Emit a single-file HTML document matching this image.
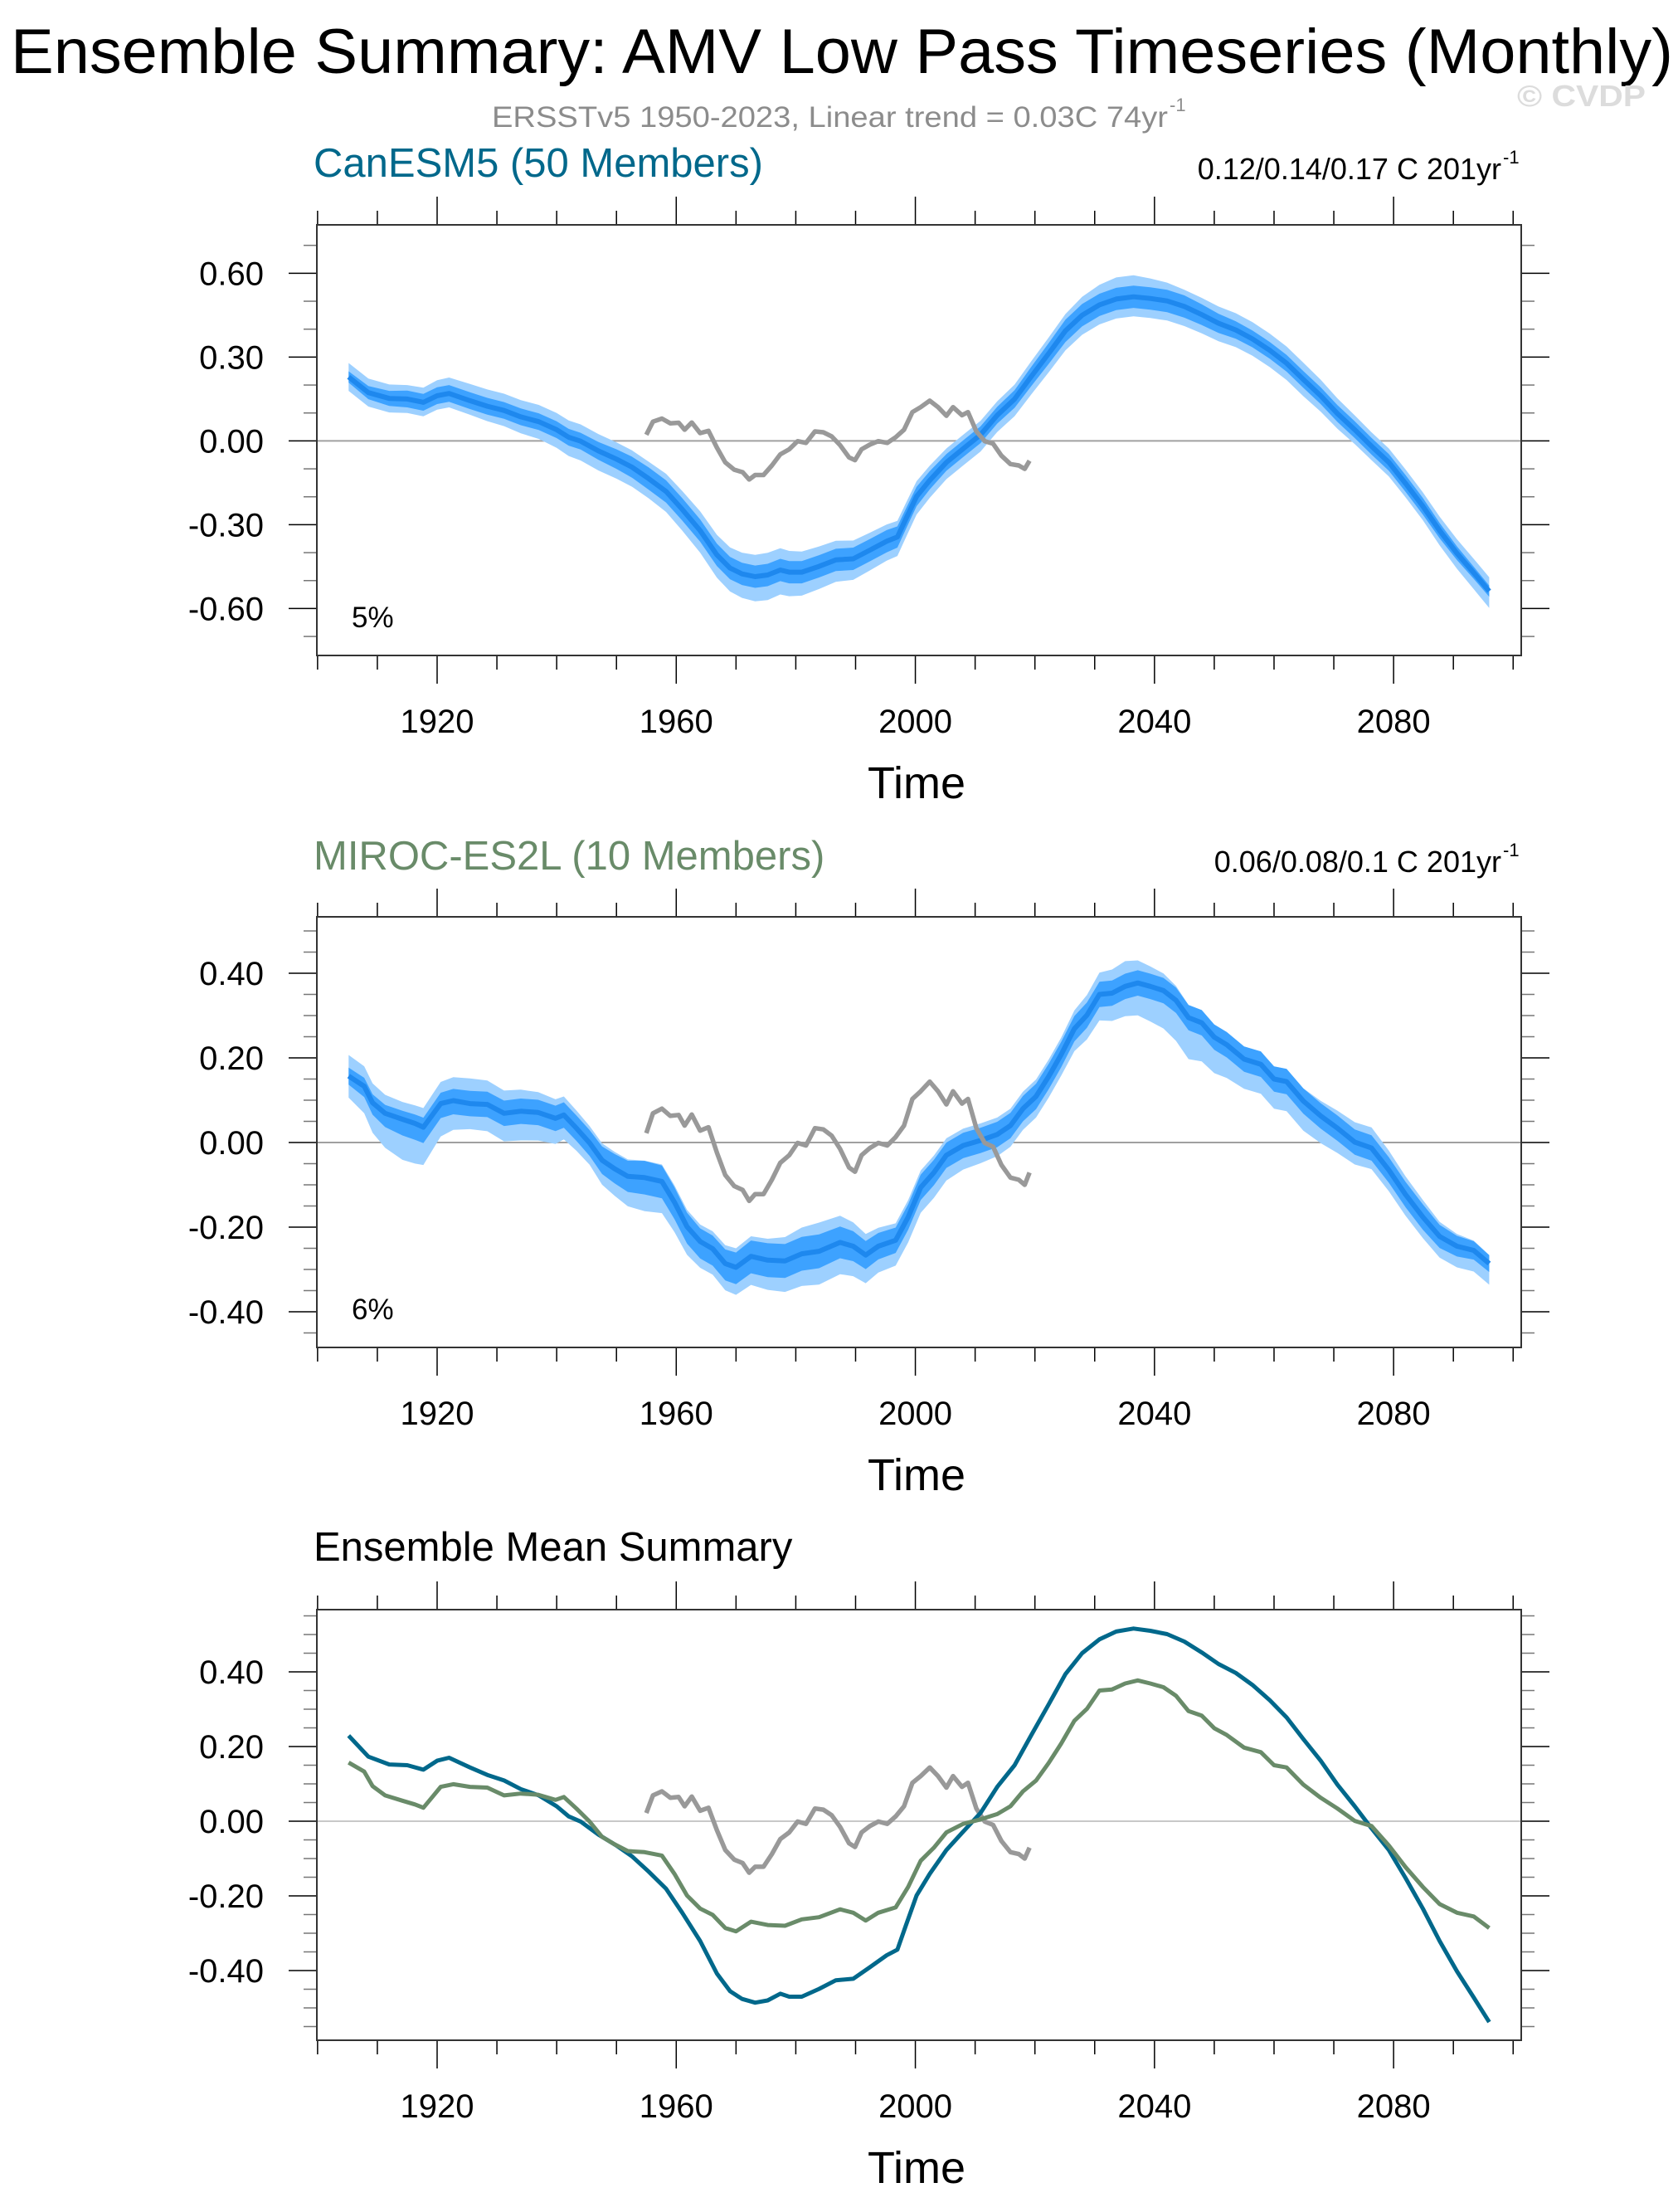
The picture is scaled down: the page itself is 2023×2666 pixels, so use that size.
<!DOCTYPE html>
<html><head><meta charset="utf-8">
<style>
html,body{margin:0;padding:0;background:#fff;}
svg{display:block;}
text{font-family:"Liberation Sans",Arial,sans-serif;}
</style></head>
<body>
<svg id="chart" xmlns="http://www.w3.org/2000/svg" width="2023" height="2666" viewBox="0 0 2023 2666">
<rect x="0" y="0" width="2023" height="2666" fill="#fff"/>
<text x="13" y="88" font-size="76" textLength="2004" lengthAdjust="spacingAndGlyphs" fill="#000">Ensemble Summary: AMV Low Pass Timeseries (Monthly)</text>
<text x="593" y="153" font-size="35" textLength="815" lengthAdjust="spacingAndGlyphs" fill="#8c8c8c">ERSSTv5 1950-2023, Linear trend = 0.03C 74yr</text>
<text x="1410" y="134" font-size="22" fill="#8c8c8c">-1</text>
<text x="1829" y="128" font-size="36" font-weight="bold" textLength="155" lengthAdjust="spacingAndGlyphs" fill="#dcdcdc">© CVDP</text>
<g id="plots"></g>
</svg>
<script>
// ---- data ----
const canYears = [1905.2,1908.5,1912,1915,1917.7,1920,1922,1925.5,1928.4,1931.2,1934,1937,1940,1942,1944,1947,1950,1952.6,1955.4,1958.3,1961,1964,1966.8,1969,1971,1973.2,1975.3,1977.4,1978.9,1981,1983.9,1986.7,1989.6,1992.4,1995.2,1997,1998.4,2000.2,2002.4,2005.2,2008,2010.9,2013.7,2016.6,2019.4,2022.3,2025.1,2027.9,2030.8,2033.6,2036.5,2039.3,2042.1,2045,2047.9,2050.7,2053.6,2056.4,2059.3,2062.1,2064.9,2067.8,2070.6,2073.5,2076.3,2079.2,2082,2084.9,2087.7,2090.6,2093.4,2096];
const canMean = [0.229,0.173,0.152,0.150,0.138,0.162,0.170,0.144,0.124,0.109,0.086,0.069,0.040,0.013,-0.001,-0.036,-0.065,-0.094,-0.135,-0.181,-0.245,-0.321,-0.408,-0.455,-0.476,-0.486,-0.480,-0.462,-0.470,-0.470,-0.449,-0.426,-0.422,-0.391,-0.359,-0.344,-0.280,-0.199,-0.141,-0.077,-0.028,0.022,0.092,0.150,0.231,0.313,0.394,0.450,0.487,0.508,0.516,0.510,0.501,0.481,0.452,0.421,0.397,0.365,0.324,0.278,0.220,0.162,0.098,0.040,-0.019,-0.077,-0.152,-0.234,-0.321,-0.402,-0.472,-0.538];
const mirYears = [1905.2,1907.8,1909.2,1911.3,1914.2,1916.3,1917.7,1919.1,1920.6,1922.7,1925.5,1928.4,1931.2,1934,1936.9,1939.8,1941.2,1943.3,1945.5,1947.6,1949.7,1951.9,1954.7,1957.6,1959.7,1961.8,1964,1966.1,1968.2,1970,1972.5,1975.3,1978.2,1981,1983.9,1987.4,1989.6,1991.7,1993.8,1996.7,1998.8,2000.9,2003.1,2005.2,2008,2010.9,2013.7,2015.9,2018,2020.2,2022.3,2024.4,2026.6,2028.7,2030.8,2032.9,2035.1,2037.2,2039.3,2041.5,2043.6,2045.7,2047.9,2050,2052.1,2055,2057.8,2060,2062.1,2064.9,2067.8,2070.6,2073.5,2076.3,2079.2,2082,2084.9,2087.7,2090.6,2093.4,2096];
const mirMean = [0.157,0.133,0.094,0.069,0.055,0.045,0.036,0.063,0.092,0.099,0.092,0.090,0.069,0.074,0.071,0.057,0.065,0.034,-0.001,-0.042,-0.062,-0.080,-0.083,-0.092,-0.141,-0.199,-0.234,-0.251,-0.286,-0.295,-0.269,-0.278,-0.280,-0.263,-0.257,-0.236,-0.245,-0.266,-0.245,-0.231,-0.176,-0.106,-0.071,-0.030,-0.007,0.005,0.019,0.040,0.080,0.109,0.156,0.208,0.269,0.301,0.350,0.353,0.369,0.377,0.369,0.359,0.336,0.295,0.283,0.249,0.231,0.197,0.185,0.150,0.144,0.098,0.063,0.034,0.001,-0.013,-0.065,-0.123,-0.176,-0.222,-0.245,-0.255,-0.286];
const obsYears = [1955,1956.1,1957.6,1959,1960.4,1961.4,1962.6,1964,1965.4,1966.8,1968.2,1969.7,1971.1,1972.2,1973.2,1974.6,1976,1977.4,1978.9,1980.3,1981.7,1983.2,1984.6,1986,1987.4,1988.9,1989.9,1991,1992.4,1993.8,1995.3,1996.7,1998.1,1999.5,2000.9,2002.4,2003.8,2005.2,2006.3,2007.8,2008.8,2010.2,2011.6,2013,2014.4,2015.9,2017.3,2018.3,2019.1];
const obsVals = [0.022,0.069,0.080,0.063,0.065,0.040,0.066,0.028,0.036,-0.024,-0.077,-0.103,-0.112,-0.138,-0.122,-0.122,-0.088,-0.048,-0.030,-0.001,-0.007,0.034,0.031,0.016,-0.015,-0.059,-0.069,-0.030,-0.013,-0.001,-0.007,0.013,0.040,0.103,0.121,0.144,0.121,0.090,0.121,0.092,0.103,0.034,-0.001,-0.010,-0.053,-0.083,-0.088,-0.100,-0.071];
const spreadYears = [1905,1915,1925,1935,1945,1955,1965,1975,1985,1995,2005,2015,2025,2035,2045,2055,2065,2075,2085,2095];
const canOuterHi = [0.05,0.05,0.06,0.06,0.06,0.06,0.07,0.08,0.07,0.06,0.05,0.05,0.06,0.08,0.06,0.06,0.06,0.05,0.05,0.05];
const canOuterLo = [0.05,0.05,0.05,0.06,0.07,0.07,0.08,0.09,0.08,0.07,0.06,0.06,0.07,0.07,0.07,0.06,0.06,0.05,0.05,0.06];
const canInnerHi = [0.02,0.03,0.03,0.03,0.03,0.04,0.04,0.04,0.04,0.04,0.03,0.03,0.04,0.04,0.04,0.03,0.03,0.03,0.03,0.02];
const canInnerLo = [0.02,0.03,0.03,0.03,0.03,0.04,0.04,0.04,0.04,0.04,0.03,0.03,0.04,0.04,0.04,0.03,0.03,0.03,0.03,0.02];
const mirOuterHi = [0.05,0.04,0.06,0.05,0.04,0.04,0.04,0.05,0.07,0.04,0.04,0.04,0.04,0.06,0.03,0.03,0.03,0.05,0.04,0.02];
const mirOuterLo = [0.05,0.10,0.06,0.07,0.05,0.08,0.06,0.07,0.08,0.06,0.06,0.05,0.05,0.07,0.10,0.07,0.07,0.05,0.05,0.05];
const mirInnerHi = [0.02,0.02,0.03,0.03,0.03,0.04,0.03,0.04,0.04,0.03,0.03,0.03,0.03,0.03,0.03,0.03,0.03,0.03,0.03,0.02];
const mirInnerLo = [0.02,0.04,0.03,0.03,0.03,0.04,0.04,0.04,0.04,0.03,0.03,0.03,0.03,0.03,0.03,0.03,0.03,0.03,0.03,0.02];
const xTickYears = [1920,1960,2000,2040,2080];
const p1Ticks = [0.6,0.3,0.0,-0.3,-0.6];
const p1TickLabels = ["0.60","0.30","0.00","-0.30","-0.60"];
const p2Ticks = [0.4,0.2,0.0,-0.2,-0.4];
const p2TickLabels = ["0.40","0.20","0.00","-0.20","-0.40"];
const p3Ticks = [0.4,0.2,0.0,-0.2,-0.4];
const p3TickLabels = ["0.40","0.20","0.00","-0.20","-0.40"];

const NS = "http://www.w3.org/2000/svg";
const root = document.getElementById('plots');
const BOXL = 382, BOXR = 1834;
const xs = y => 527 + (y - 1920) * 7.207;
function mk(tag, attrs, parent){ const e=document.createElementNS(NS,tag); for(const k in attrs) e.setAttribute(k,attrs[k]); (parent||root).appendChild(e); return e; }
function spreadAt(arr, yr){
  if (yr<=spreadYears[0]) return arr[0];
  for(let i=0;i<spreadYears.length-1;i++){
    if(yr<=spreadYears[i+1]){ const t=(yr-spreadYears[i])/(spreadYears[i+1]-spreadYears[i]); return arr[i]*(1-t)+arr[i+1]*t; }
  }
  return arr[arr.length-1];
}
function linePath(xsArr, vals, ys){ return vals.map((v,i)=>(i?'L':'M')+xs(xsArr[i]).toFixed(1)+' '+ys(v).toFixed(1)).join(' '); }
function bandPath(xsArr, vals, hi, lo, ys){
  let d = vals.map((v,i)=>(i?'L':'M')+xs(xsArr[i]).toFixed(1)+' '+ys(v+spreadAt(hi,xsArr[i])).toFixed(1)).join(' ');
  for(let i=vals.length-1;i>=0;i--) d+=' L'+xs(xsArr[i]).toFixed(1)+' '+ys(vals[i]-spreadAt(lo,xsArr[i])).toFixed(1);
  return d+' Z';
}
function panel(cfg){
  const g = mk('g',{});
  
  
  const ys = v => cfg.zero - v*cfg.scale;
  const top=cfg.top, bot=cfg.bot;
  const t = mk('text',{x:cfg.titleX||378,y:cfg.titleY,'font-size':49,fill:cfg.titleColor},g); t.textContent=cfg.title;
  
  
  if(cfg.right){
    const r = mk('text',{x:1810,y:cfg.titleY+3,'font-size':36,'text-anchor':'end',fill:'#000'},g); r.textContent=cfg.right;
    
    
    const s = mk('text',{x:1812,y:cfg.titleY-16,'font-size':22,fill:'#000'},g); s.textContent='-1';
    
    
  }
  for(let yr=1900; yr<=2100; yr+=10){
    const x = xs(yr), major = xTickYears.includes(yr);
    const L = major?34:17;
    mk('line',{x1:x,x2:x,y1:top,y2:top-L,stroke:'#000','stroke-width':1.5},g);
    mk('line',{x1:x,x2:x,y1:bot,y2:bot+L,stroke:'#000','stroke-width':1.5},g);
  }
  xTickYears.forEach(yr=>{
    const lt = mk('text',{x:xs(yr),y:bot+93,'font-size':40,'text-anchor':'middle',fill:'#000'},g); lt.textContent=yr;
    
    
  });
  const xt = mk('text',{x:1105,y:bot+172,'font-size':54,'text-anchor':'middle',fill:'#000'},g); xt.textContent='Time';
  
  
  const vmax=(cfg.zero-top)/cfg.scale, vmin=-(bot-cfg.zero)/cfg.scale;
  for(let k=Math.ceil(vmin/cfg.minor-1e-6); k*cfg.minor<=vmax+1e-9; k++){
    const v=k*cfg.minor, y=ys(v);
    const major = cfg.ticks.some(tv=>Math.abs(tv-v)<1e-6);
    const L = major?34:16;
    mk('line',{x1:BOXL,x2:BOXL-L,y1:y,y2:y,stroke:major?'#000':'#777','stroke-width':1.5},g);
    mk('line',{x1:BOXR,x2:BOXR+L,y1:y,y2:y,stroke:major?'#000':'#777','stroke-width':1.5},g);
  }
  cfg.ticks.forEach((v,i)=>{
    const lt = mk('text',{x:318,y:ys(v)+14,'font-size':40,'text-anchor':'end',fill:'#000'},g); lt.textContent=cfg.labels[i];
    
    
  });
  const zl = mk('line',{x1:BOXL,x2:BOXR,y1:ys(0),y2:ys(0),stroke:cfg.zeroColor||'#a0a0a0','stroke-width':2},g);
  
  
  cfg.draw(g, ys);
  const box = mk('rect',{x:BOXL,y:top,width:BOXR-BOXL,height:bot-top,fill:'none',stroke:'#333','stroke-width':2},g);
  
  
  if(cfg.pct){
    const p = mk('text',{x:424,y:cfg.pctY,'font-size':35,fill:'#000'},g); p.textContent=cfg.pct;
    
    
  }
}
function ensemble(g, ys, yrs, mean, oh, ol, ih, il){
  const o = mk('path',{d:bandPath(yrs,mean,oh,ol,ys),fill:'#9dd0ff'},g);
  
  
  const n = mk('path',{d:bandPath(yrs,mean,ih,il,ys),fill:'#3da2ff'},g);
  
  
  const m = mk('path',{d:linePath(yrs,mean,ys),fill:'none',stroke:'#1e88ee','stroke-width':6,'stroke-linejoin':'round'},g);
  
  
}
function obsLine(g, ys){
  const o = mk('path',{d:linePath(obsYears,obsVals,ys),fill:'none',stroke:'#999','stroke-width':5.5,'stroke-linejoin':'round'},g);
  
  
}
panel({name:'canesm5-panel',title:'CanESM5 (50 Members)',titleColor:'#00688b',titleY:213,right:'0.12/0.14/0.17 C 201yr',
  top:271,bot:790,zero:531.4,scale:336.7,minor:0.1,ticks:p1Ticks,labels:p1TickLabels,pct:'5%',pctY:756,
  draw:(g,ys)=>{ ensemble(g,ys,canYears,canMean,canOuterHi,canOuterLo,canInnerHi,canInnerLo); obsLine(g,ys); }});
panel({name:'miroc-es2l-panel',title:'MIROC-ES2L (10 Members)',titleColor:'#698b69',titleY:1048,right:'0.06/0.08/0.1 C 201yr',
  top:1105,bot:1624,zero:1377,scale:510,minor:0.05,ticks:p2Ticks,labels:p2TickLabels,pct:'6%',pctY:1590,
  draw:(g,ys)=>{ ensemble(g,ys,mirYears,mirMean,mirOuterHi,mirOuterLo,mirInnerHi,mirInnerLo); obsLine(g,ys); }});
panel({name:'ensemble-mean-panel',title:'Ensemble Mean Summary',titleColor:'#000',titleY:1881,
  top:1940,bot:2459,zero:2195,scale:450,minor:0.05,ticks:p3Ticks,labels:p3TickLabels,zeroColor:'#c8c8c8',
  draw:(g,ys)=>{
    obsLine(g,ys);
    const a = mk('path',{d:linePath(canYears,canMean,ys),fill:'none',stroke:'#00688b','stroke-width':5,'stroke-linejoin':'round'},g);
    
    
    const b = mk('path',{d:linePath(mirYears,mirMean,ys),fill:'none',stroke:'#698b69','stroke-width':5,'stroke-linejoin':'round'},g);
    
    
  }});
</script>
</body></html>
